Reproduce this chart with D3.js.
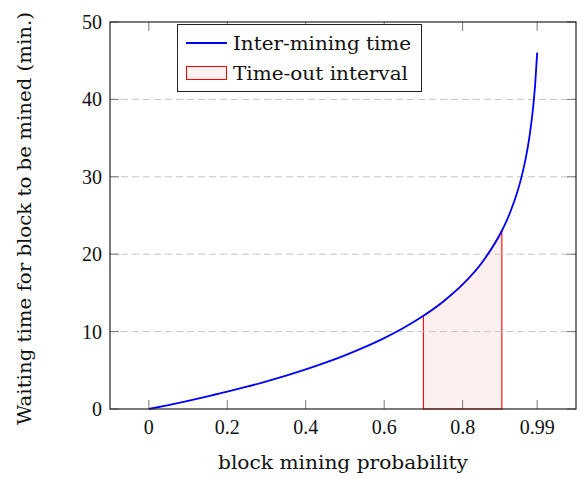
<!DOCTYPE html>
<html><head><meta charset="utf-8">
<script src="https://cdn.jsdelivr.net/npm/d3@7"></script>
<style>body{margin:0;background:#fff}svg{display:block}</style>
</head><body>
<svg id="c" width="583" height="479"></svg>
<script>
// Data
const probs = [0, 0.05, 0.1, 0.15, 0.2, 0.25, 0.3, 0.35, 0.4, 0.45, 0.5, 0.55, 0.6, 0.65, 0.7, 0.75, 0.8, 0.85, 0.9, 0.92, 0.94, 0.95, 0.96, 0.97, 0.98, 0.985, 0.99];
const waitTimes = [0, 0.51, 1.05, 1.63, 2.23, 2.88, 3.57, 4.31, 5.11, 5.98, 6.93, 7.99, 9.16, 10.5, 12.04, 13.86, 16.09, 18.97, 23.03, 25.26, 28.13, 29.96, 32.19, 35.07, 39.12, 42.0, 46.05];
const timeoutInterval = [0.7, 0.9];
const xTicks = [0, 0.2, 0.4, 0.6, 0.8, 0.99];
const xTickLabels = ["0", "0.2", "0.4", "0.6", "0.8", "0.99"];
const yTicks = [0, 10, 20, 30, 40, 50];
const seriesNames = ["Inter-mining time", "Time-out interval"];

const svg = d3.select("#c");
const L = 110, R = 576, T = 22, B = 409;
const x = d3.scaleLinear().domain([-0.099, 1.089]).range([L, R]);
const y = d3.scaleLinear().domain([0, 50]).range([B, T]);
const numFont = "'Liberation Serif', serif";
const txtFont = "'DejaVu Serif', 'Liberation Serif', serif";
const pts = probs.map((p, i) => ({p, v: waitTimes[i]}));

function fit(sel, w) {
  sel.attr("textLength", w).attr("lengthAdjust", "spacingAndGlyphs");
}

// shaded timeout area
const inInt = pts.filter(d => d.p >= timeoutInterval[0] && d.p <= timeoutInterval[1]);
const area = d3.area().x(d => x(d.p)).y0(y(0)).y1(d => y(d.v)).curve(d3.curveMonotoneX);
svg.append("path").datum(inInt).attr("d", area).attr("fill", "#fff0f0").attr("stroke", "#ff0000").attr("stroke-width", 1.1);

// grid (drawn over the fill, as in the reference)
svg.append("g").selectAll("line").data(yTicks.filter(t => t > 0 && t < 50)).join("line")
  .attr("x1", L).attr("x2", R).attr("y1", d => y(d)).attr("y2", d => y(d))
  .attr("stroke", "#c4c4c4").attr("stroke-width", 1).attr("stroke-dasharray", "7,4");

// curve
const line = d3.line().x(d => x(d.p)).y(d => y(d.v)).curve(d3.curveMonotoneX);
svg.append("path").datum(pts).attr("d", line).attr("fill", "none").attr("stroke", "#0000ff").attr("stroke-width", 1.8);

// ticks
const tl = 9;
const tg = svg.append("g").attr("stroke", "#777").attr("stroke-width", 1);
xTicks.forEach(t => {
  tg.append("line").attr("x1", x(t)).attr("x2", x(t)).attr("y1", B).attr("y2", B - tl);
  tg.append("line").attr("x1", x(t)).attr("x2", x(t)).attr("y1", T).attr("y2", T + tl);
});
yTicks.forEach(t => {
  tg.append("line").attr("x1", L).attr("x2", L + tl).attr("y1", y(t)).attr("y2", y(t));
  tg.append("line").attr("x1", R).attr("x2", R - tl).attr("y1", y(t)).attr("y2", y(t));
});

// frame
svg.append("rect").attr("x", L).attr("y", T).attr("width", R - L).attr("height", B - T)
  .attr("fill", "none").attr("stroke", "#222").attr("stroke-width", 1.2);

// tick labels
svg.append("g").selectAll("text").data(xTicks).join("text")
  .attr("x", d => x(d)).attr("y", B + 25).attr("text-anchor", "middle")
  .attr("font-family", numFont).attr("font-size", 20).attr("fill", "#111")
  .text((d, i) => xTickLabels[i]);
svg.append("g").selectAll("text").data(yTicks).join("text")
  .attr("x", L - 8).attr("y", d => y(d) + 7).attr("text-anchor", "end")
  .attr("font-family", numFont).attr("font-size", 20).attr("fill", "#111")
  .text(d => d);

// axis titles
svg.append("text").attr("x", 218).attr("y", 469)
  .attr("font-family", txtFont).attr("font-size", 18).attr("fill", "#111").text("block mining probability")
  .call(fit, 250);
svg.append("text").attr("transform", `translate(31,425) rotate(-90)`)
  .attr("font-family", txtFont).attr("font-size", 18).attr("fill", "#111").text("Waiting time for block to be mined (min.)")
  .call(fit, 413);

// legend
const lg = svg.append("g");
lg.append("rect").attr("x", 177.5).attr("y", 24.5).attr("width", 244).attr("height", 67)
  .attr("fill", "#fff").attr("stroke", "#222").attr("stroke-width", 1);
lg.append("line").attr("x1", 186).attr("x2", 227).attr("y1", 43).attr("y2", 43).attr("stroke", "#0000ff").attr("stroke-width", 1.8);
lg.append("rect").attr("x", 186.5).attr("y", 66.5).attr("width", 40).attr("height", 13).attr("fill", "#fff0f0").attr("stroke", "#ff0000").attr("stroke-width", 1);
const legW = [178, 175];
lg.selectAll("text.l").data(seriesNames).join("text").attr("class", "l")
  .attr("x", 233).attr("y", (d, i) => 49.5 + i * 30.5)
  .attr("font-family", txtFont).attr("font-size", 18).attr("fill", "#111").text(d => d)
  .each(function(d, i) { d3.select(this).call(fit, legW[i]); });
</script>
</body></html>
